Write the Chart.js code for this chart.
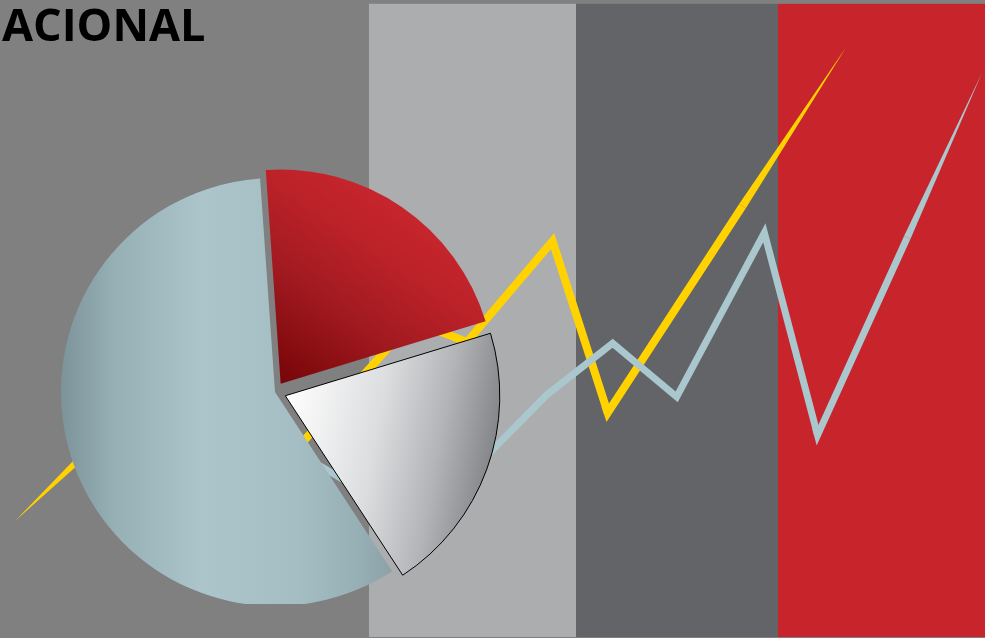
<!DOCTYPE html>
<html>
<head>
<meta charset="utf-8">
<script src="https://cdn.jsdelivr.net/npm/chart.js@4.4.1/dist/chart.umd.min.js"></script>
<style>
  html, body { margin: 0; padding: 0; background: #808081; }
  #wrap { position: relative; width: 985px; height: 638px; overflow: hidden; }
  #lines, #pie { position: absolute; left: 0; top: 0; }
</style>
</head>
<body>
<div id="wrap">
  <canvas id="lines" width="985" height="638"></canvas>
  <canvas id="pie" width="550" height="604"></canvas>
</div>
<script>
const title = 'ACIONAL';

// vertical bands behind the lines (x units, 0-100)
const bandEdges = [37.46, 58.48, 78.98, 100];
const bandColors = ['#acadaf', '#636467', '#c8242c'];
const bandTop = 99.4;
const bandBottom = 0.16;

// two zig-zag series (x, y in 0-100 units)
const yellowX = [1.5, 9.6, 16.8, 24.9, 41.9, 47.4, 56.1, 61.7, 85.9];
const yellowY = [18.3, 30.3, 38.1, 20.8, 49.7, 46.4, 62.2, 35.3, 92.6];
const blueX = [11.2, 24.4, 42.6, 55.5, 62.2, 68.7, 77.6, 83.0, 99.7];
const blueY = [26.3, 34.2, 17.9, 38.1, 46.2, 37.8, 63.5, 31.8, 88.6];

// pie slices (offset is in chart.js units, drawn at 1/4)
const pieLabels = ['Rojo', 'Blanco', 'Celeste'];
const pieValues = [21.4, 20.5, 58.1];
const pieOffsets = [40, 44, 0];

const points = (xs, ys) => xs.map((x, i) => ({ x: x, y: ys[i] }));

// hide first and last segment, the taper plugin draws them as wedges
const hideEnds = n => ({
  borderColor: c => (c.p0DataIndex === 0 || c.p1DataIndex === n - 1) ? 'rgba(0,0,0,0)' : undefined
});

function drawTaper(ctx, a, b, c, w, k) {
  const dx = c.x - b.x, dy = c.y - b.y;
  const len = Math.hypot(dx, dy);
  const ux = dx / len, uy = dy / len;
  const s = Math.max(1 - 1 / k, 0.02);
  const q = { x: b.x + dx * s, y: b.y + dy * s };
  const ax = a.x - b.x, ay = a.y - b.y, al = Math.hypot(ax, ay);
  // short lead-in so the join at b gets a proper miter
  ctx.beginPath();
  ctx.moveTo(b.x + ax / al * w, b.y + ay / al * w);
  ctx.lineTo(b.x, b.y);
  ctx.lineTo(q.x, q.y);
  ctx.stroke();
  const nx = -uy * w / 2, ny = ux * w / 2;
  ctx.beginPath();
  ctx.moveTo(q.x + nx, q.y + ny);
  ctx.lineTo(c.x, c.y);
  ctx.lineTo(q.x - nx, q.y - ny);
  ctx.closePath();
  ctx.fill();
}

const bandsPlugin = {
  id: 'bands',
  beforeDatasetsDraw(chart) {
    const { ctx, scales: { x, y } } = chart;
    ctx.save();
    ctx.fillStyle = '#808081';
    ctx.fillRect(0, 0, chart.width, chart.height);
    for (let i = 0; i < bandColors.length; i++) {
      const l = x.getPixelForValue(bandEdges[i]);
      const r = x.getPixelForValue(bandEdges[i + 1]);
      const t = y.getPixelForValue(bandTop);
      const b = y.getPixelForValue(bandBottom);
      ctx.fillStyle = bandColors[i];
      ctx.fillRect(l, t, r - l, b - t);
    }
    ctx.restore();
  }
};

const taperPlugin = {
  id: 'taper',
  afterDatasetDraw(chart, args) {
    const ds = chart.data.datasets[args.index];
    const p = args.meta.data.map(e => ({ x: e.x, y: e.y }));
    const n = p.length;
    const ctx = chart.ctx;
    ctx.save();
    ctx.strokeStyle = ds.borderColor;
    ctx.fillStyle = ds.borderColor;
    ctx.lineWidth = ds.borderWidth;
    ctx.lineJoin = 'miter';
    ctx.lineCap = 'butt';
    drawTaper(ctx, p[2], p[1], p[0], ds.borderWidth, ds.taperStart);
    drawTaper(ctx, p[n - 3], p[n - 2], p[n - 1], ds.borderWidth, ds.taperEnd);
    ctx.restore();
  }
};

const titlePlugin = {
  id: 'heading',
  afterDraw(chart) {
    const ctx = chart.ctx;
    ctx.save();
    ctx.fillStyle = '#000';
    ctx.font = 'bold 45px "Open Sans"';
    ctx.textBaseline = 'alphabetic';
    ctx.fillText(title, 2, 41);
    ctx.restore();
  }
};

new Chart(document.getElementById('lines'), {
  type: 'line',
  data: {
    datasets: [
      {
        label: 'Celeste',
        data: points(blueX, blueY),
        borderColor: '#a9c7cd',
        borderWidth: 7,
        order: 0,
        taperStart: 1,
        taperEnd: 2.2,
        segment: hideEnds(blueX.length)
      },
      {
        label: 'Amarillo',
        data: points(yellowX, yellowY),
        borderColor: '#ffd200',
        borderWidth: 8,
        order: 1,
        taperStart: 1,
        taperEnd: 2.3,
        segment: hideEnds(yellowX.length)
      }
    ]
  },
  options: {
    responsive: false,
    animation: false,
    layout: { padding: 0 },
    elements: {
      point: { radius: 0 },
      line: { tension: 0, borderJoinStyle: 'miter', borderCapStyle: 'butt' }
    },
    scales: {
      x: { type: 'linear', min: 0, max: 100, display: false },
      y: { type: 'linear', min: 0, max: 100, display: false }
    },
    plugins: { legend: { display: false }, tooltip: { enabled: false } }
  },
  plugins: [bandsPlugin, taperPlugin, titlePlugin]
});

// gradients for the pie slices
function sliceFill(c) {
  const chart = c.chart;
  const area = chart.chartArea;
  if (!area) return '#a9c3c9';
  const g = chart.ctx;
  const cx = (area.left + area.right) / 2;
  const cy = (area.top + area.bottom) / 2;
  const r = 214;
  let grad;
  if (c.dataIndex === 0) {
    grad = g.createLinearGradient(cx, cy, cx + 0.567 * 210, cy - 0.824 * 210);
    grad.addColorStop(0, '#760507');
    grad.addColorStop(0.45, '#a11a20');
    grad.addColorStop(0.8, '#bd2229');
    grad.addColorStop(1, '#c6252d');
  } else if (c.dataIndex === 1) {
    grad = g.createLinearGradient(cx, cy, cx + 210, cy + 38);
    grad.addColorStop(0, '#ffffff');
    grad.addColorStop(0.45, '#dcdddf');
    grad.addColorStop(0.75, '#b3b4b7');
    grad.addColorStop(1, '#86878b');
  } else {
    grad = g.createLinearGradient(cx - r, 0, cx + r, 0);
    grad.addColorStop(0, '#7c9399');
    grad.addColorStop(0.12, '#95afb5');
    grad.addColorStop(0.33, '#abc5cb');
    grad.addColorStop(0.55, '#a4bec4');
    grad.addColorStop(0.7, '#96afb4');
    grad.addColorStop(0.8, '#879ca1');
    grad.addColorStop(1, '#7d9297');
  }
  return grad;
}

new Chart(document.getElementById('pie'), {
  type: 'pie',
  data: {
    labels: pieLabels,
    datasets: [{
      data: pieValues,
      backgroundColor: sliceFill,
      borderColor: '#000000',
      borderWidth: [0, 1, 0],
      offset: pieOffsets
    }]
  },
  options: {
    responsive: false,
    animation: false,
    rotation: -4,
    radius: 214,
    layout: { padding: { top: 180 } },
    plugins: { legend: { display: false }, tooltip: { enabled: false } }
  }
});
</script>
</body>
</html>
